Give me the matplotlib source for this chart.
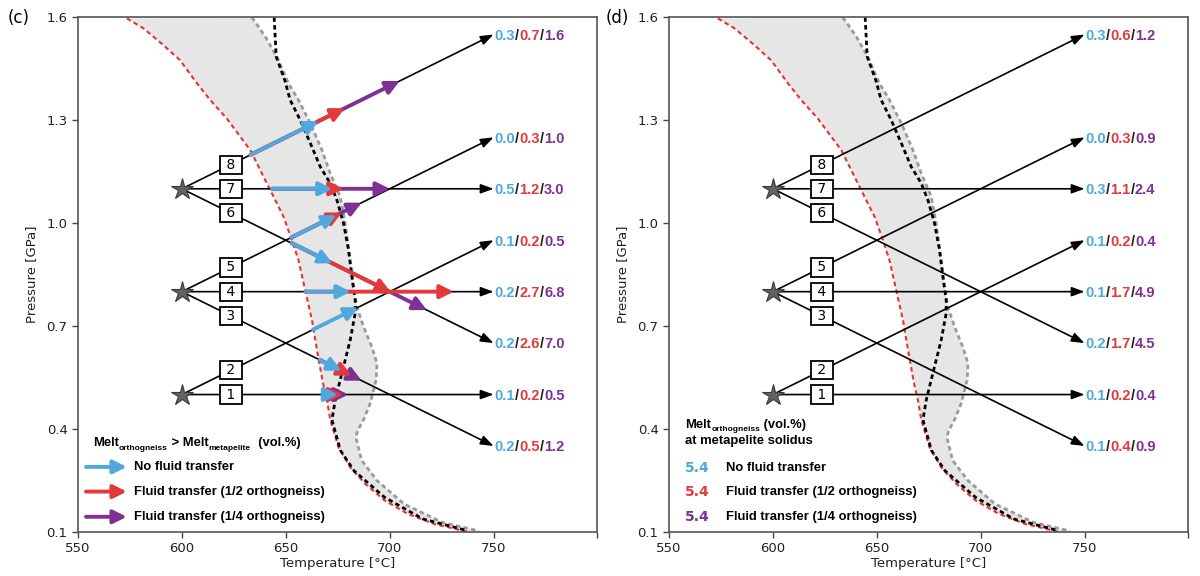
import numpy as np
import matplotlib.pyplot as plt
from matplotlib.transforms import offset_copy

# --- courbes de solidus ---
red_T = [573.5, 581.5, 591.1, 599.1, 607.2, 613.6, 621.6, 632.9, 639.3, 644.1, 648.9, 652.9, 656.1,
         659.3, 662.6, 665.3, 667.9, 669.8, 671.4, 675.4, 681.0, 688.3, 697.6, 708.7, 721.7, 737.4]
red_P = [1.597, 1.568, 1.519, 1.475, 1.408, 1.359, 1.305, 1.213, 1.135, 1.077, 1.019, 0.951, 0.892,
         0.805, 0.717, 0.620, 0.533, 0.484, 0.426, 0.346, 0.288, 0.239, 0.191, 0.152, 0.122, 0.100]
black_T = [644.4, 645.4, 649.5, 652.1, 656.9, 661.8, 666.6, 671.4, 674.6, 677.8, 680.2, 681.8, 683.4,
           683.4, 681.0, 678.6, 676.2, 673.8, 672.2, 676.3, 682.8, 697.6, 716.0, 737.4]
black_P = [1.600, 1.485, 1.417, 1.359, 1.301, 1.233, 1.164, 1.116, 1.067, 0.999, 0.921, 0.844, 0.776,
           0.737, 0.659, 0.601, 0.543, 0.484, 0.426, 0.337, 0.278, 0.200, 0.137, 0.103]
grey_T = [633.7, 640.2, 645.7, 651.3, 656.1, 661.8, 667.4, 671.4, 676.2, 678.6, 681.0, 682.6, 684.2,
          687.4, 691.4, 693.9, 693.5, 690.6, 687.4, 684.6, 683.7, 686.5, 693.9, 706.9, 725.4, 743.0]
grey_P = [1.600, 1.543, 1.485, 1.407, 1.359, 1.291, 1.213, 1.145, 1.077, 0.999, 0.892, 0.814, 0.756,
          0.698, 0.639, 0.591, 0.543, 0.474, 0.426, 0.395, 0.376, 0.308, 0.249, 0.181, 0.127, 0.102]

# --- chemins P-T ---
star_T = [600, 600, 600]
star_P = [1.1, 0.8, 0.5]
path_ids = [8, 7, 6, 5, 4, 3, 2, 1]
path_T0 = [600, 600, 600, 600, 600, 600, 600, 600]
path_P0 = [1.1, 1.1, 1.1, 0.8, 0.8, 0.8, 0.5, 0.5]
path_T1 = [750, 750, 750, 750, 750, 750, 750, 750]
path_P1 = [1.55, 1.1, 0.65, 1.25, 0.8, 0.35, 0.95, 0.5]
box_T = 623.5

# valeurs en bout de chemin (bleu/rouge/violet)
vals_c = [["0.3", "0.7", "1.6"], ["0.5", "1.2", "3.0"], ["0.2", "2.6", "7.0"], ["0.0", "0.3", "1.0"],
          ["0.2", "2.7", "6.8"], ["0.2", "0.5", "1.2"], ["0.1", "0.2", "0.5"], ["0.1", "0.2", "0.5"]]
vals_d = [["0.3", "0.6", "1.2"], ["0.3", "1.1", "2.4"], ["0.2", "1.7", "4.5"], ["0.0", "0.3", "0.9"],
          ["0.1", "1.7", "4.9"], ["0.1", "0.4", "0.9"], ["0.1", "0.2", "0.4"], ["0.1", "0.2", "0.4"]]

# fleches colorees panneau (c): debut, fin bleu, fin rouge, fin violet (None = masquee)
arr_start = [633.0, 643.5, 653.0, 652.7, 659.5, 666.3, 663.1, 669.6]
arr_blue = [665.8, 672.5, 672.5, 674.4, 681.3, 676.8, 684.9, 675.2]
arr_red = [678.4, 677.8, 700.5, 677.0, 730.8, 681.6, None, 677.6]
arr_purple = [704.8, 700.1, 717.9, 686.5, None, 686.5, None, 680.1]

legend_labels = ["No fluid transfer", "Fluid transfer (1/2 orthogneiss)", "Fluid transfer (1/4 orthogneiss)"]
legend_demo = ["5.4", "5.4", "5.4"]

BLUE = "#4fa8de"
RED = "#e3393a"
PURPLE = "#7e3195"
COLS = [BLUE, RED, PURPLE]
SANS = ["Liberation Sans", "DejaVu Sans"]

fig = plt.figure(figsize=(12, 5.76), dpi=100)
axc = fig.add_axes([0.065, 0.0769, 0.4329, 0.893])
axd = fig.add_axes([0.5575, 0.0769, 0.4329, 0.893])


def put_runs(ax, x, y, runs, trans=None, dy0=0.0):
    """Ecrit des morceaux de texte a la suite (couleurs / indices)."""
    r = fig.canvas.get_renderer()
    base = ax.transData if trans is None else trans
    dx = 0.0
    for s, kw in runs:
        kw = dict(kw)
        dy = kw.pop("dy", 0.0)
        pad = kw.pop("pad", 0.0)
        tr = offset_copy(base, fig=fig, x=dx, y=dy0 + dy, units="points")
        t = ax.text(x, y, s, transform=tr, ha="left", va="baseline", **kw)
        dx += t.get_window_extent(r).width * 72.0 / fig.dpi + pad


def on_path(i, t):
    return path_P0[i] + (path_P1[i] - path_P0[i]) * (t - path_T0[i]) / (path_T1[i] - path_T0[i])


def draw_base(ax, vals):
    ax.fill(np.r_[red_T, grey_T[::-1]], np.r_[red_P, grey_P[::-1]], color="#e6e6e6", lw=0, zorder=1)
    ax.plot(grey_T, grey_P, color="#9a9a9a", lw=2, ls=(0, (1.6, 1.2)), zorder=2)
    ax.plot(black_T, black_P, color="black", lw=2, ls=(0, (1.6, 1.2)), zorder=2.2)
    ax.plot(red_T, red_P, color="#e8332f", lw=1.5, ls=(0, (2.2, 1.6)), zorder=2.1)

    for i in range(len(path_ids)):
        ax.annotate("", xy=(path_T1[i], path_P1[i]), xytext=(path_T0[i], path_P0[i]),
                    arrowprops=dict(arrowstyle="-|>,head_length=0.55,head_width=0.2", mutation_scale=14,
                                    lw=1.2, color="black", shrinkA=0, shrinkB=0), zorder=3)
        ax.text(box_T, on_path(i, box_T), " %d " % path_ids[i], fontsize=10, ha="center", va="center",
                zorder=5, bbox=dict(boxstyle="square,pad=0.15", fc="white", ec="black", lw=1.3))
        runs = []
        for k, v in enumerate(vals[i]):
            runs.append((v, dict(color=COLS[k], fontsize=10.5, fontweight="bold", family=SANS, pad=0.2)))
            if k < 2:
                runs.append(("/", dict(color="#222222", fontsize=10.5, fontweight="bold", family=SANS, pad=0.2)))
        put_runs(ax, path_T1[i], path_P1[i], runs,
                 trans=offset_copy(ax.transData, fig=fig, x=0.3, y=0, units="points"), dy0=-3.8)

    ax.plot(star_T, star_P, marker="*", ms=16, color="#626262", mec="#3a3a3a", mew=0.8, ls="none", zorder=6)

    ax.set_xlim(550, 800)
    ax.set_ylim(0.1, 1.6)
    ax.set_xticks([550, 600, 650, 700, 750, 800])
    ax.set_xticklabels(["550", "600", "650", "700", "750", ""])
    ax.set_yticks([0.1, 0.4, 0.7, 1.0, 1.3, 1.6])
    ax.tick_params(direction="out", length=4, width=1, color="#444444", labelsize=9.5, labelcolor="#222222")
    for sp in ax.spines.values():
        sp.set_color("#555555")
        sp.set_linewidth(1.2)
    ax.set_xlabel("Temperature [°C]", fontsize=9.5, labelpad=1, color="#222222")
    ax.set_ylabel("Pressure [GPa]", fontsize=9.5, labelpad=6, color="#222222")


draw_base(axc, vals_c)
draw_base(axd, vals_d)

ARR = dict(arrowstyle="-|>,head_length=0.4,head_width=0.2", mutation_scale=20, lw=2.8,
           shrinkA=0, shrinkB=0)

# fleches colorees (c): violet dessous, puis rouge, puis bleu
for ends, col, z in [(arr_purple, PURPLE, 4.0), (arr_red, RED, 4.1), (arr_blue, BLUE, 4.2)]:
    for i in range(len(path_ids)):
        if ends[i] is None:
            continue
        axc.annotate("", xy=(ends[i], on_path(i, ends[i])), xytext=(arr_start[i], on_path(i, arr_start[i])),
                     arrowprops=dict(color=col, **ARR), zorder=z)

# legende (c)
lf = dict(fontsize=9.4, fontweight="bold", family=SANS, color="black")
sf = dict(fontsize=6, fontweight="bold", family=SANS, color="black", dy=-2.3)
put_runs(axc, 0.029, 0.175, [("Melt", lf), ("orthogneiss", sf), (" > Melt", lf), ("metapelite", sf),
                             ("  (vol.%)", lf)], trans=axc.transAxes, dy0=-3.4)
for k, (lab, col) in enumerate(zip(legend_labels, COLS)):
    y = [0.126, 0.078, 0.029][k]
    axc.annotate("", xy=(0.094, y), xytext=(0.0154, y), xycoords="axes fraction",
                 arrowprops=dict(color=col, **ARR))
    axc.text(0.107, y, lab, transform=axc.transAxes, va="center", ha="left", **lf)

# legende (d)
put_runs(axd, 0.0316, 0.211, [("Melt", lf), ("orthogneiss", sf), (" (vol.%)", lf)],
         trans=axd.transAxes, dy0=-3.4)
axd.text(0.0316, 0.176, "at metapelite solidus", transform=axd.transAxes, va="center", ha="left", **lf)
for k, (lab, col) in enumerate(zip(legend_labels, COLS)):
    y = [0.124, 0.077, 0.029][k]
    axd.text(0.031, y, legend_demo[k], transform=axd.transAxes, va="center", ha="left",
             fontsize=10, fontweight="bold", color=col)
    axd.text(0.110, y, lab, transform=axd.transAxes, va="center", ha="left", **lf)

fig.text(0.006, 0.968, "(c)", fontsize=12, va="center", ha="left")
fig.text(0.505, 0.968, "(d)", fontsize=12, va="center", ha="left")

fig.savefig("out.png", dpi=100)
plt.close(fig)
